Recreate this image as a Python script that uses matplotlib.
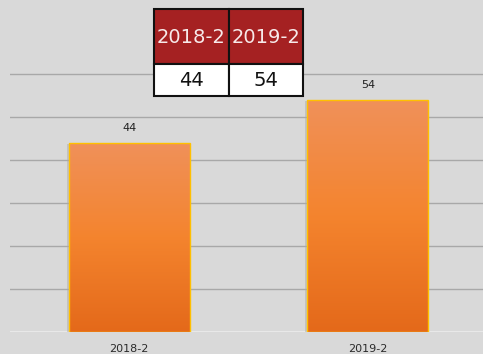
import numpy as np
import matplotlib
matplotlib.use("Agg")
import matplotlib.pyplot as plt
from matplotlib.colors import LinearSegmentedColormap
from matplotlib.patches import Rectangle

periods = ["2018-2", "2019-2"]
counts = [44, 54]

W, H = 483, 354
bg = "#d9d9d9"
fig = plt.figure(figsize=(W / 100, H / 100), dpi=100, facecolor=bg)

# axes run a little past the right edge, like the original sheet
ax = fig.add_axes([10 / W, 22 / H, 477 / W, 332 / H], facecolor=bg)
ax.set_xlim(-0.5, 1.5)
ax.set_ylim(0, 332 / 4.3)

for v in range(10, 70, 10):
    ax.axhline(v, color="#a8a8a8", lw=1, zorder=1)
ax.axhline(0, color="#ececec", lw=1.2, zorder=1)

x = np.arange(len(periods))
bars = ax.bar(x, counts, width=0.507, color="none", edgecolor="#ffc000",
              lw=1.0, zorder=3)

grad = LinearSegmentedColormap.from_list("bar", ["#e4691a", "#f4842e", "#f0915a"])
ramp = np.linspace(0, 1, 256).reshape(-1, 1)
for b in bars:
    x0, w, h = b.get_x(), b.get_width(), b.get_height()
    # soft shadow on the left side
    ax.add_patch(Rectangle((x0 - 0.008, 0), w, h - 0.3, color="#a8a8a8",
                           alpha=0.45, lw=0, zorder=2))
    im = ax.imshow(ramp, cmap=grad, origin="lower", aspect="auto",
                   extent=(x0, x0 + w, 0, h), zorder=2.5)
    im.set_clip_path(b)
    ax.text(b.get_x() + w / 2, h + 2.2, f"{h:.0f}", ha="center", va="bottom",
            fontsize=8, color="#222222", zorder=4)

ax.set_xticks(x, periods)
ax.tick_params(axis="x", length=0, labelsize=8, labelcolor="#2a2a2a", pad=9)
ax.set_yticks([])
for s in ax.spines.values():
    s.set_visible(False)

# small summary table at the top
tx0, tx1, tmid = 154, 303, 228.5
ty0, tsplit, ty1 = 9, 64, 96


def fx(px):
    return px / W


def fy(py):
    return 1 - py / H


for (c0, c1), label, val in zip([(tx0, tmid), (tmid, tx1)], periods, counts):
    fig.patches.append(Rectangle((fx(c0), fy(tsplit)), fx(c1) - fx(c0),
                                 fy(ty0) - fy(tsplit), transform=fig.transFigure,
                                 facecolor="#a52122", edgecolor="#111111", lw=1.5))
    fig.patches.append(Rectangle((fx(c0), fy(ty1)), fx(c1) - fx(c0),
                                 fy(tsplit) - fy(ty1), transform=fig.transFigure,
                                 facecolor="white", edgecolor="#111111", lw=1.5))
    fig.text(fx((c0 + c1) / 2), fy((ty0 + tsplit) / 2 + 1), label, ha="center",
             va="center", fontsize=14, color="#f7eaea")
    fig.text(fx((c0 + c1) / 2), fy((tsplit + ty1) / 2 + 1), f"{val}", ha="center",
             va="center", fontsize=14, color="#111111")

fig.savefig("out.png", dpi=100, facecolor=bg)
